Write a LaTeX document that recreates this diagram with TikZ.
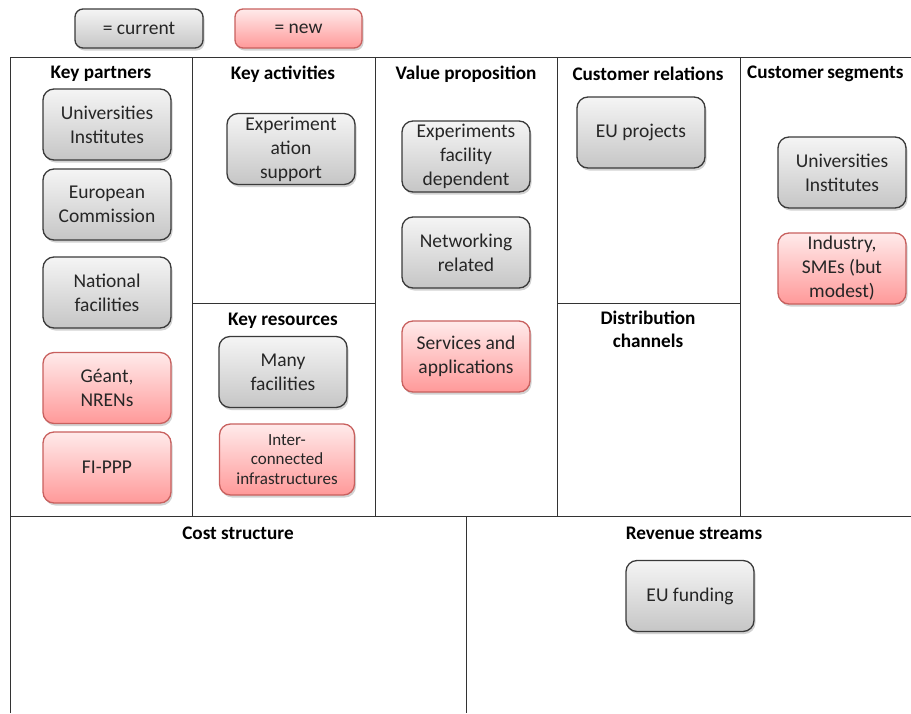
\documentclass[tikz,border=0pt]{standalone}
\usepackage{fontspec}
\setmainfont{Carlito}
\usetikzlibrary{shadows}
\definecolor{txt}{HTML}{262626}
\definecolor{grayline}{HTML}{3A3A3A}
\definecolor{pinkline}{HTML}{C8605E}
\definecolor{frameline}{HTML}{333333}
\tikzset{
  card/.style={rounded corners=11pt, minimum width=128pt, minimum height=71pt,
    align=center, font=\fontsize{19.5}{24}\selectfont, text=txt, line width=1.3pt,
    inner sep=1pt,
    drop shadow={shadow xshift=1.5pt, shadow yshift=-2.5pt, fill=black!35, opacity=0.5}},
  current/.style={card, draw=grayline, top color=gray!8, bottom color=gray!45},
  newitem/.style={card, draw=pinkline, top color=red!8, bottom color=red!40},
  legendbox/.style={minimum height=39pt, rounded corners=8pt},
  head/.style={font=\bfseries\fontsize{19.2}{23}\selectfont, text=black, align=center},
  frame/.style={draw=frameline, line width=1pt}
}
\begin{document}
\begin{tikzpicture}[x=1pt, y=-1pt]
\useasboundingbox (0,0) rectangle (911,713);
% legend
\node[current, legendbox, minimum width=128pt] (lc) at (139,28.5) {= current};
\node[newitem, legendbox, minimum width=127pt] (ln) at (298.5,28.5) {= new};
% canvas grid
\draw[frame] (10,713) -- (10,57) -- (911,57);
\draw[frame] (10,516) -- (911,516);
\draw[frame] (192,57) -- (192,516);
\draw[frame] (375,57) -- (375,516);
\draw[frame] (557,57) -- (557,516);
\draw[frame] (740,57) -- (740,516);
\draw[frame] (192,303) -- (375,303);
\draw[frame] (557,303) -- (740,303);
\draw[frame] (466,516) -- (466,713);
% headers
\node[head] (hkp) at (101,74) {Key partners};
\node[head] (hka) at (283,74) {Key activities};
\node[head] (hvp) at (466,74) {Value proposition};
\node[head] (hcr) at (648,74) {Customer relations};
\node[head, anchor=west, inner sep=0pt] (hcs) at (747,74) {Customer\hspace{-1pt} segments};
\node[head] (hkr) at (283,321) {Key resources};
\node[head, anchor=north] (hdc) at (648,307) {Distribution\\channels};
\node[head] (hcost) at (238,533) {Cost structure};
\node[head] (hrev) at (694,533) {Revenue streams};
% key partners
\node[current] (kp1) at (107,124.5) {Universities\\Institutes};
\node[current] (kp2) at (107,204.5) {European\\Commission};
\node[current] (kp3) at (107,292.5) {National\\facilities};
\node[newitem] (kp4) at (107,388) {Géant,\\NRENs};
\node[newitem] (kp5) at (107,467.5) {FI-PPP};
% key activities / resources
\node[current] (ka1) at (291,149) {Experiment\\ation\\support};
\node[current] (kr1) at (283,372) {Many\\facilities};
\node[newitem, minimum width=135pt, font=\fontsize{17}{19.5}\selectfont] (kr2) at (287,459.5) {Inter-\\connected\\infrastructures};
% value proposition
\node[current] (vp1) at (466,156.5) {Experiments\\facility\\dependent};
\node[current] (vp2) at (466,252.5) {Networking\\related};
\node[newitem] (vp3) at (466,356.5) {Services and\\applications};
% customer relations
\node[current] (cr1) at (641,132.5) {EU projects};
% customer segments
\node[current] (cs1) at (842,172.5) {Universities\\Institutes};
\node[newitem] (cs2) at (842,268.5) {Industry,\\SMEs (but\\modest)};
% revenue streams
\node[current] (rs1) at (690,596) {EU funding};
\end{tikzpicture}
\end{document}
